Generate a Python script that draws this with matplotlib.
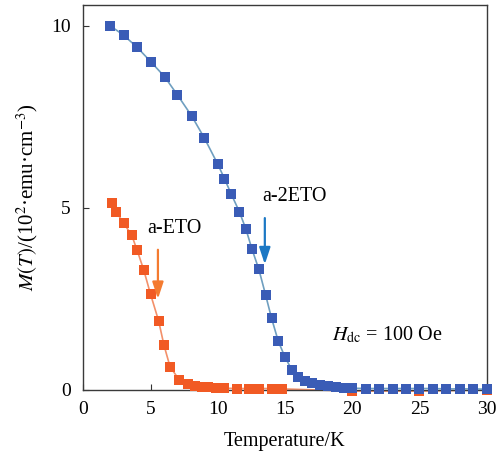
import numpy as np
import matplotlib.pyplot as plt

plt.rcParams['font.family'] = ['Liberation Serif', 'DejaVu Serif']
plt.rcParams['mathtext.fontset'] = 'stix'

# a-2ETO (blue)
t_b = [2.0, 3.0, 4.0, 5.05, 6.05, 7.0, 8.05, 9.0, 10.0, 10.5, 11.0, 11.6, 12.1, 12.55,
       13.05, 13.55, 14.0, 14.5, 15.0, 15.5, 16.0, 16.5, 17.0, 17.6, 18.2, 18.8, 19.4,
       20.0, 21.0, 22.0, 23.0, 24.0, 25.0, 26.0, 27.0, 28.0, 29.0, 30.0]
m_b = [10.0, 9.74, 9.41, 9.0, 8.6, 8.1, 7.53, 6.92, 6.2, 5.8, 5.38, 4.9, 4.41, 3.86,
       3.32, 2.62, 1.97, 1.34, 0.9, 0.56, 0.37, 0.25, 0.18, 0.13, 0.1, 0.08, 0.06,
       0.05, 0.04, 0.04, 0.04, 0.04, 0.04, 0.04, 0.03, 0.03, 0.03, 0.02]

# a-ETO (orange)
t_o = [2.1, 2.45, 3.0, 3.6, 4.0, 4.5, 5.0, 5.6, 6.0, 6.45, 7.15, 7.75, 8.3, 8.8,
       9.3, 9.9, 10.5, 11.4, 12.3, 13.1, 14.0, 14.8, 20.0, 25.0, 30.0]
m_o = [5.13, 4.89, 4.58, 4.25, 3.84, 3.29, 2.63, 1.9, 1.23, 0.64, 0.27, 0.16, 0.11, 0.09,
       0.07, 0.06, 0.05, 0.04, 0.04, 0.04, 0.04, 0.03, -0.03, -0.03, 0.0]

fig = plt.figure(figsize=(5.03, 4.63), dpi=100)
ax = fig.add_axes([0.1656, 0.1577, 0.802, 0.8315])

ax.plot(t_o, m_o, '-', color='#f3906a', lw=1.2, zorder=2, clip_on=False)
ax.plot(t_o, m_o, 's', color='#f15a24', ms=7, mew=0, zorder=3, clip_on=False)
ax.plot(t_b, m_b, '-', color='#6f9fc0', lw=1.2, zorder=4, clip_on=False)
ax.plot(t_b, m_b, 's', color='#3a5cb6', ms=7, mew=0, zorder=5, clip_on=False)

# arrows
arrow_style = '-|>,head_width=0.33,head_length=1.0'
ax.annotate('', xy=(5.55, 2.5), xytext=(5.55, 3.85),
            arrowprops=dict(arrowstyle=arrow_style, color='#f47b30', lw=1.6,
                            mutation_scale=10, shrinkA=0, shrinkB=0))
ax.annotate('', xy=(13.5, 3.45), xytext=(13.5, 4.72),
            arrowprops=dict(arrowstyle=arrow_style, color='#1c78c4', lw=1.6,
                            mutation_scale=10, shrinkA=0, shrinkB=0))

ax.text(6.8, 4.44, 'a-ETO', fontsize=14.5, ha='center', va='center')
ax.text(15.7, 5.3, 'a-2ETO', fontsize=14.5, ha='center', va='center')
ax.text(18.5, 1.5, r'$H_{\rm dc}$ = 100 Oe', fontsize=14.5, ha='left', va='center')

ax.set_xlim(0, 30)
ax.set_ylim(0, 10.57)
ax.set_xticks([0, 5, 10, 15, 20, 25, 30])
ax.set_yticks([0, 5, 10])
ax.tick_params(direction='in', length=4, width=0.8, labelsize=14, color='#333333', pad=9)
ax.tick_params(axis='x', pad=8)
for s in ax.spines.values():
    s.set_color('#3a3a3a')
    s.set_linewidth(1.0)

ax.set_xlabel('Temperature/K', fontsize=14.5, labelpad=10)
ax.set_ylabel(r'$M(T)$/(10$^{2}$·emu·cm$^{-3}$)', fontsize=15, labelpad=8)

fig.savefig('out.png', dpi=100)
